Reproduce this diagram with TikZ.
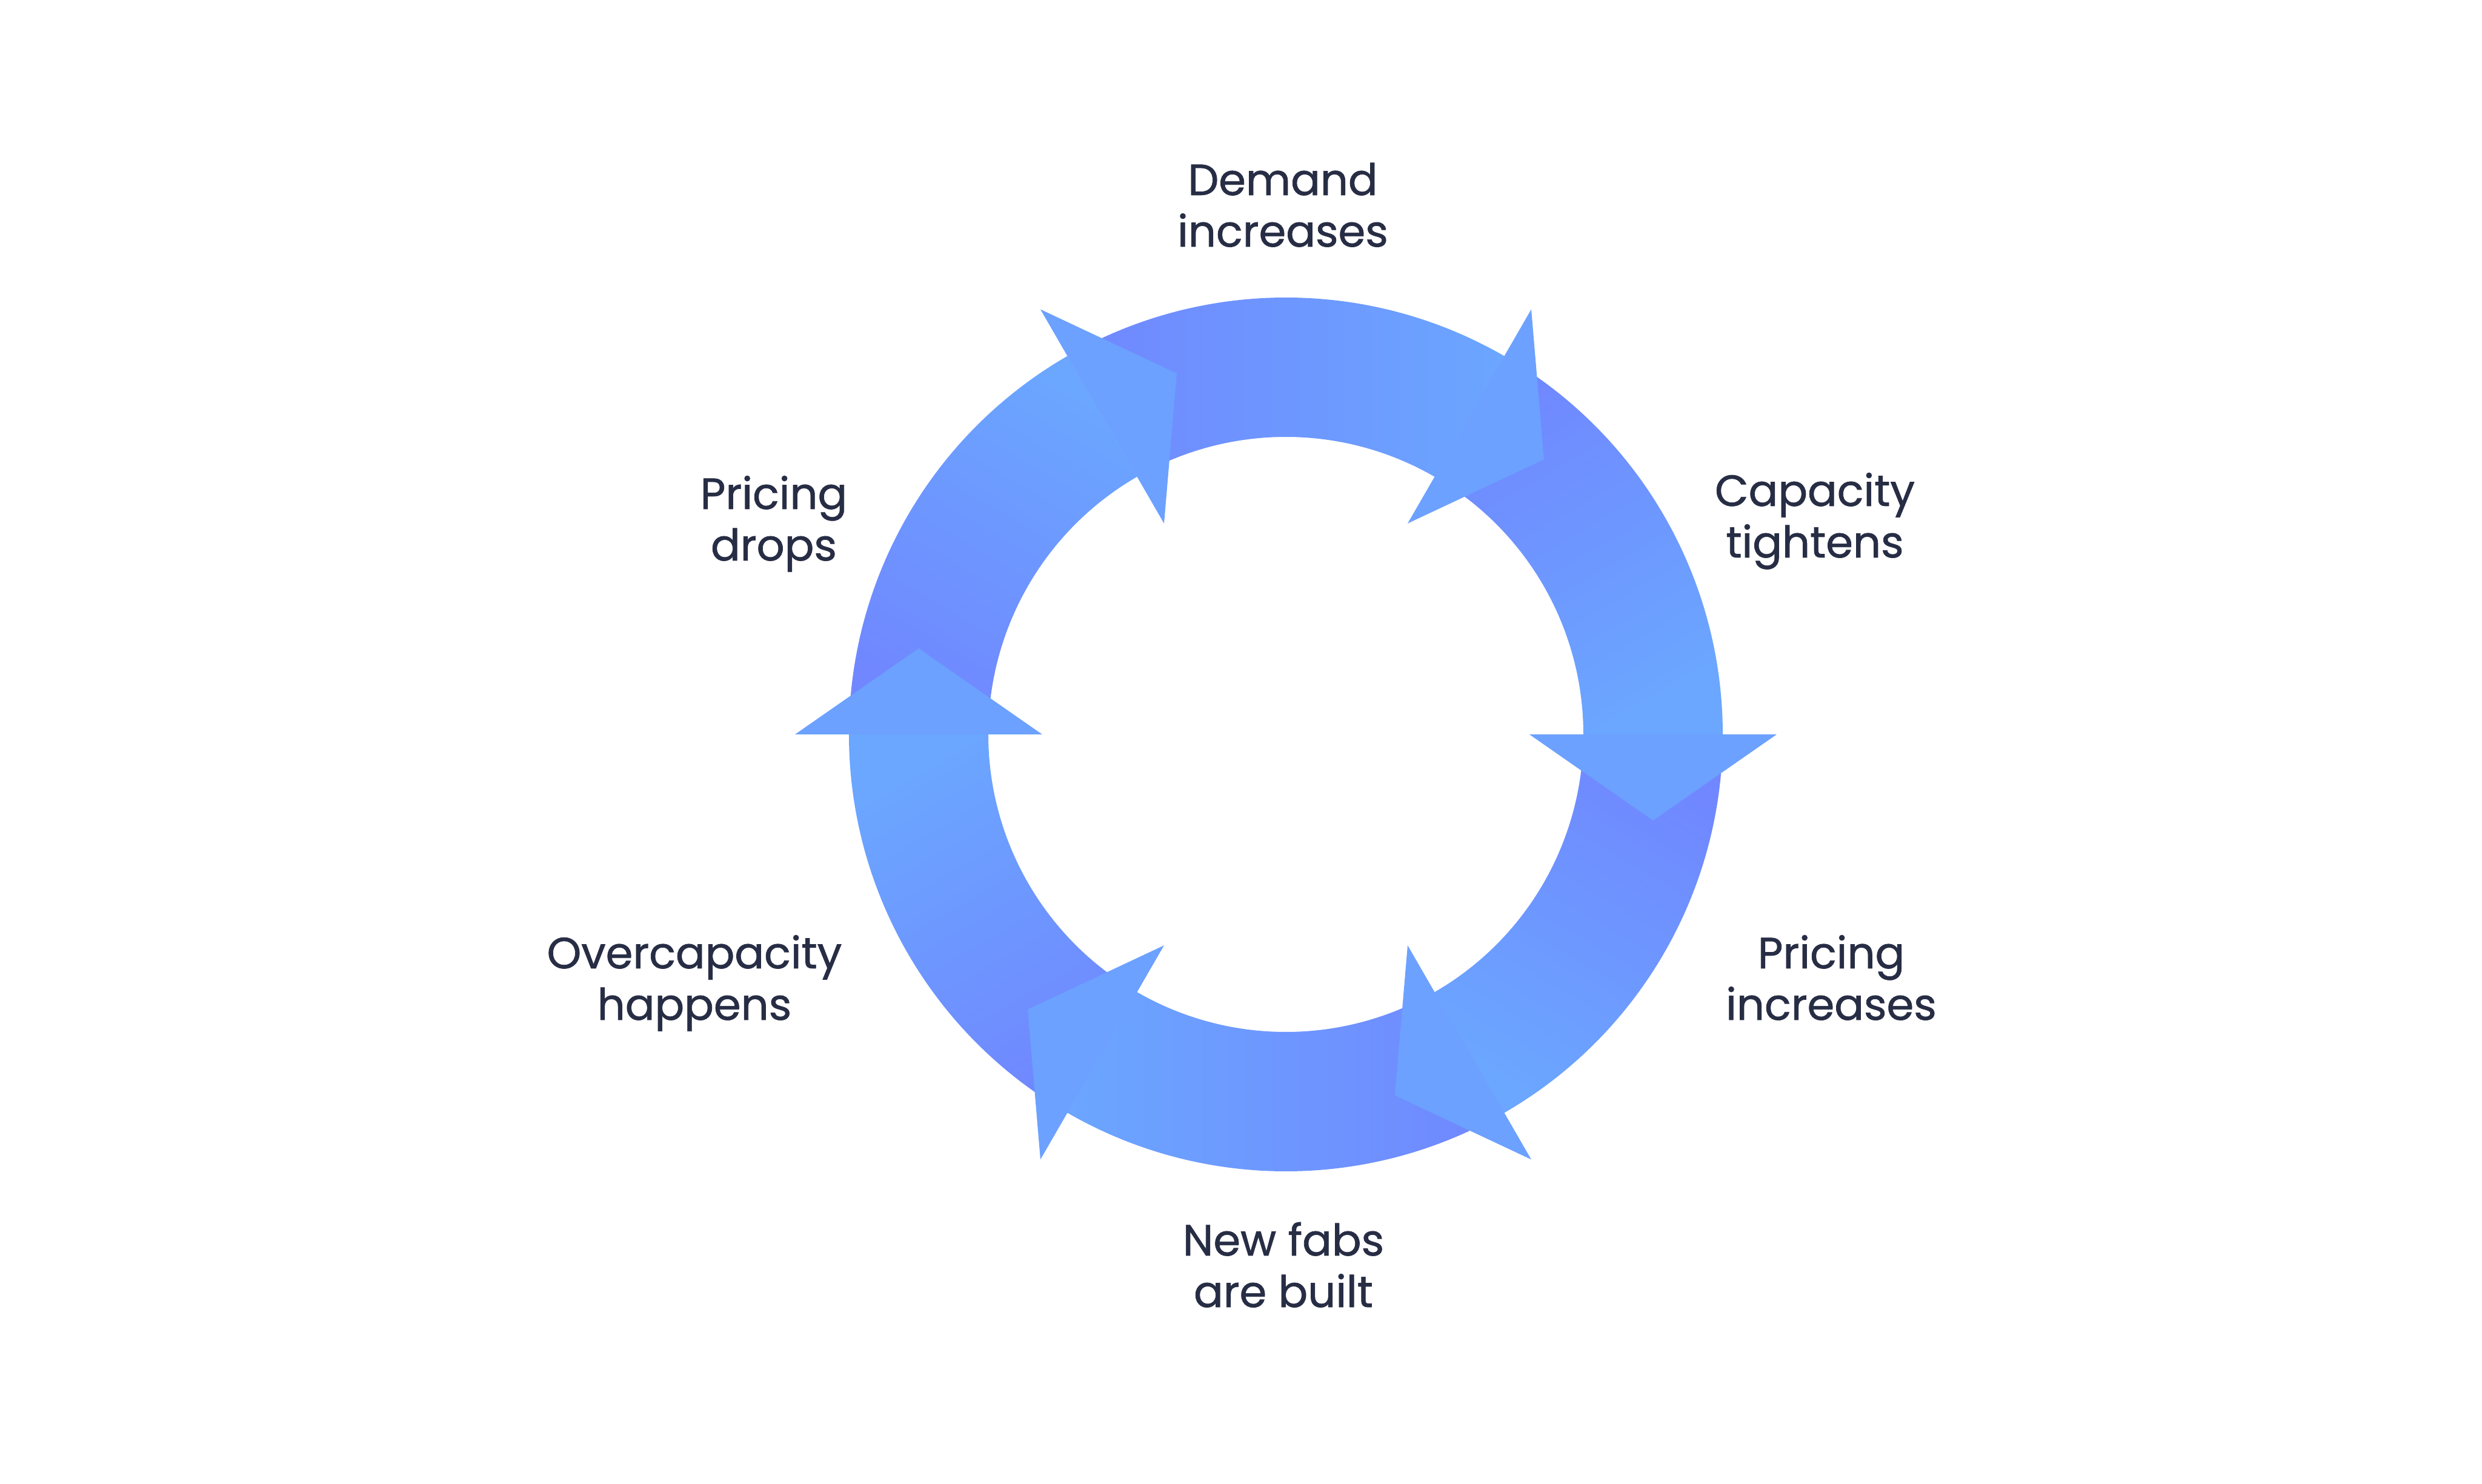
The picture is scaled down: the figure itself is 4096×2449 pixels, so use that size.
\documentclass[tikz,border=0pt]{standalone}
\usepackage{fontspec}
\setmainfont{Poppins}
\newfontfamily\lblfont{Poppins}[FakeBold=1]
\definecolor{violetblue}{RGB}{112,135,255}
\definecolor{skyblue}{RGB}{107,166,255}
\definecolor{navytext}{RGB}{39,45,68}
\begin{document}
\begin{tikzpicture}[x=0.1mm,y=0.1mm,
  seg/.style={top color=violetblue, bottom color=skyblue},
  head/.style={fill=skyblue!85!violetblue},
  lbl/.style={align=center, text=navytext, inner sep=0pt, anchor=base,
    font=\lblfont\fontsize{20.5}{24.2}\selectfont}]
 \useasboundingbox (-2122,-1237) rectangle (1974,1212);
 %Ring segments
 \shade[seg, shading angle=90] (120:721) arc (120:60:721) -- (60:491) arc (60:120:491) -- cycle;
 \shade[seg, shading angle=30] (60:721) arc (60:0:721) -- (0:491) arc (0:60:491) -- cycle;
 \shade[seg, shading angle=-30] (0:721) arc (0:-60:721) -- (-60:491) arc (-60:0:491) -- cycle;
 \shade[seg, shading angle=-90] (-60:721) arc (-60:-120:721) -- (-120:491) arc (-120:-60:491) -- cycle;
 \shade[seg, shading angle=-150] (-120:721) arc (-120:-180:721) -- (-180:491) arc (-180:-120:491) -- cycle;
 \shade[seg, shading angle=150] (180:721) arc (180:120:721) -- (120:491) arc (120:180:491) -- cycle;

 %Arrow heads
 \fill[head] (60:402) -- (60:810) -- (46.81:622.4) -- cycle;
 \fill[head] (0:402) -- (0:810) -- (-13.19:622.4) -- cycle;
 \fill[head] (-60:402) -- (-60:810) -- (-73.19:622.4) -- cycle;
 \fill[head] (-120:402) -- (-120:810) -- (-133.19:622.4) -- cycle;
 \fill[head] (180:402) -- (180:810) -- (166.81:622.4) -- cycle;
 \fill[head] (120:402) -- (120:810) -- (106.81:622.4) -- cycle;

 %Labels (base = last line)
 \node[lbl] (demand) at (-5,805) {Demand\\increases};
 \node[lbl] (capacity) at (873,292) {Capacity\\tightens};
 \node[lbl] (priceup) at (900,-471) {Pricing\\increases};
 \node[lbl] (fabs) at (-4,-945) {New fabs\\are built};
 \node[lbl] (overcap) at (-976,-471) {Overcapacity\\happens};
 \node[lbl] (pricedown) at (-845,287) {Pricing\\drops};
\end{tikzpicture}
\end{document}
